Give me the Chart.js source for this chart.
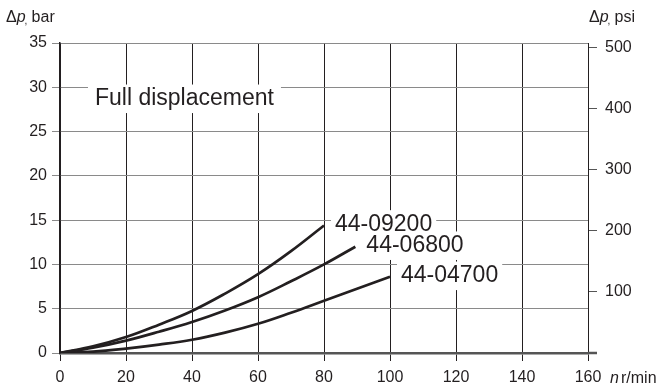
<!DOCTYPE html>
<html>
<head>
<meta charset="utf-8">
<script src="https://cdn.jsdelivr.net/npm/chart.js@4"></script>
<style>
  body { margin: 0; background: #fff; }
  canvas { display: block; }
</style>
</head>
<body>
<canvas id="chart" width="664" height="390"></canvas>
<script>
// values (n in r/min, Δp in bar)
const rpm09200 = [0, 10, 20, 30, 40, 50, 60, 70, 80];
const bar09200 = [0, 0.75, 1.8, 3.2, 4.75, 6.7, 8.9, 11.5, 14.4];
const rpm06800 = [0, 10, 20, 30, 40, 50, 60, 70, 80, 89.5];
const bar06800 = [0, 0.6, 1.4, 2.4, 3.5, 4.8, 6.3, 8.1, 10.0, 12.0];
const rpm04700 = [0, 10, 20, 30, 40, 50, 60, 70, 80, 90, 100];
const bar04700 = [0, 0.15, 0.5, 0.95, 1.5, 2.3, 3.3, 4.55, 5.9, 7.25, 8.6];
const seriesNames = ['44-09200', '44-06800', '44-04700'];
const psiTicks = [0, 100, 200, 300, 400, 500];
const PSI_PER_BAR = 14.5038;

const FONT = '"Liberation Sans", Arial, Helvetica, sans-serif';
const INK = '#231f20';

function toPoints(xs, ys) {
  return xs.map((x, i) => ({ x: x, y: ys[i] }));
}

const lineStyle = {
  borderColor: INK,
  borderWidth: 2.7,
  pointRadius: 0,
  fill: false,
  tension: 0.4
};

// text with white box behind it, hides grid lines like in the print
function boxedText(ctx, text, x, y, size, pad) {
  ctx.font = size + 'px ' + FONT;
  const w = ctx.measureText(text).width;
  ctx.fillStyle = '#fff';
  ctx.fillRect(x - pad, y - size * 0.62, w + pad * 2, size * 1.24);
  ctx.fillStyle = INK;
  ctx.textBaseline = 'middle';
  ctx.textAlign = 'left';
  ctx.fillText(text, x, y);
}

// "Δp, unit" style axis title
function axisTitle(ctx, x, baseline, unit) {
  ctx.fillStyle = INK;
  ctx.textBaseline = 'alphabetic';
  ctx.textAlign = 'left';
  ctx.font = '16px ' + FONT;
  ctx.fillText('\u0394', x, baseline);
  let cx = x + ctx.measureText('\u0394').width;
  ctx.font = 'italic 16px ' + FONT;
  ctx.fillText('p', cx, baseline);
  cx += ctx.measureText('p').width;
  ctx.font = '10px ' + FONT;
  ctx.fillText(',', cx - 1, baseline + 2);
  ctx.font = '16px ' + FONT;
  ctx.fillText(unit, cx + 6, baseline);
}

const annotations = {
  id: 'annotations',
  afterDraw(chart) {
    const ctx = chart.ctx;
    const xs = chart.scales.x, ys = chart.scales.y;
    const area = chart.chartArea;
    ctx.save();

    // bottom axis line runs a little past the right axis
    ctx.strokeStyle = '#555';
    ctx.lineWidth = 2.5;
    ctx.beginPath();
    ctx.moveTo(area.right, ys.getPixelForValue(0));
    ctx.lineTo(area.right + 9, ys.getPixelForValue(0));
    ctx.stroke();

    boxedText(ctx, 'Full displacement', xs.getPixelForValue(10.6), ys.getPixelForValue(28.7), 23, 7);

    chart.data.datasets.forEach((ds, i) => {
      const last = ds.data[ds.data.length - 1];
      const px = xs.getPixelForValue(last.x);
      const py = ys.getPixelForValue(last.y);
      boxedText(ctx, seriesNames[i], px + 11, py - 1, 23, 4);
    });

    axisTitle(ctx, 6, 22, 'bar');
    axisTitle(ctx, 589, 22, 'psi');

    ctx.font = 'italic 16px ' + FONT;
    ctx.textBaseline = 'alphabetic';
    ctx.fillText('n', 610, 383);
    ctx.font = '16px ' + FONT;
    ctx.fillText('r/min', 621, 383);
    ctx.restore();
  }
};

new Chart(document.getElementById('chart'), {
  type: 'line',
  data: {
    datasets: [
      { label: seriesNames[0], data: toPoints(rpm09200, bar09200), ...lineStyle },
      { label: seriesNames[1], data: toPoints(rpm06800, bar06800), ...lineStyle },
      { label: seriesNames[2], data: toPoints(rpm04700, bar04700), ...lineStyle }
    ]
  },
  options: {
    responsive: false,
    animation: false,
    devicePixelRatio: 1,
    layout: { padding: { top: 43, left: 0, right: 0, bottom: 0 } },
    plugins: { legend: { display: false }, tooltip: { enabled: false } },
    scales: {
      x: {
        type: 'linear',
        min: 0,
        max: 160,
        afterFit: s => { s.height = 37; },
        ticks: { stepSize: 20, color: INK, padding: 7, font: { family: FONT, size: 16 } },
        grid: { color: INK, lineWidth: 1, tickLength: 8 },
        border: { color: '#555', width: 2.5 }
      },
      y: {
        position: 'left',
        min: 0,
        max: 35,
        afterFit: s => { s.width = 60; },
        ticks: { stepSize: 5, color: INK, padding: 5, font: { family: FONT, size: 16 } },
        grid: { color: '#8a8a8a', lineWidth: 1, tickLength: 8 },
        border: { color: INK, width: 1.5 }
      },
      y2: {
        position: 'right',
        min: 0,
        max: 35 * PSI_PER_BAR,
        afterFit: s => { s.width = 76; },
        afterBuildTicks: s => { s.ticks = psiTicks.map(v => ({ value: v })); },
        ticks: {
          color: INK,
          padding: 8,
          font: { family: FONT, size: 16 },
          callback: v => (v === 0 ? '' : v)
        },
        grid: { drawOnChartArea: false, color: '#555', lineWidth: 1, tickLength: 9 },
        border: { color: INK, width: 1 }
      }
    }
  },
  plugins: [annotations]
});
</script>
</body>
</html>
